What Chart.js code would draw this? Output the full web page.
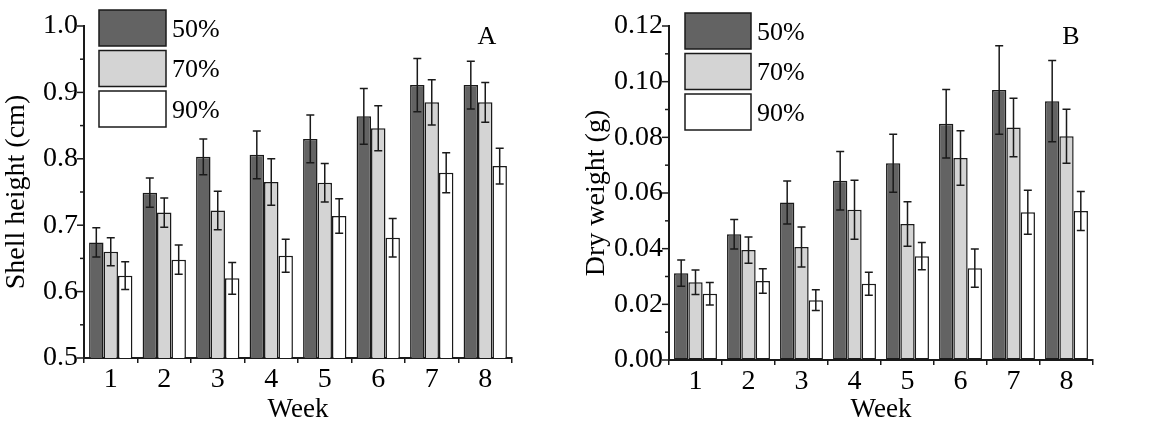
<!DOCTYPE html>
<html>
<head>
<meta charset="utf-8">
<script src="https://cdn.jsdelivr.net/npm/chart.js@4/dist/chart.umd.min.js"></script>
<style>
  html, body { margin: 0; padding: 0; background: #fff; }
  #wrap { position: relative; width: 1163px; height: 427px; }
  #panelA { position: absolute; left: 0; top: 0; }
  #panelB { position: absolute; left: 580px; top: 0; }
</style>
</head>
<body>
<div id="wrap">
  <canvas id="panelA" width="580" height="427"></canvas>
  <canvas id="panelB" width="583" height="427"></canvas>
</div>
<script>
const weeks = ["1", "2", "3", "4", "5", "6", "7", "8"];
const seriesLabels = ["50%", "70%", "90%"];
const seriesColors = ["#636363", "#d4d4d4", "#ffffff"];

// shell height (cm), mean and error
const shell50 = [0.674, 0.749, 0.803, 0.806, 0.830, 0.864, 0.911, 0.911];
const shell70 = [0.660, 0.719, 0.722, 0.765, 0.764, 0.846, 0.885, 0.885];
const shell90 = [0.624, 0.648, 0.620, 0.654, 0.714, 0.681, 0.779, 0.789];
const shell50Err = [0.022, 0.022, 0.027, 0.036, 0.036, 0.042, 0.040, 0.036];
const shell70Err = [0.021, 0.022, 0.029, 0.035, 0.029, 0.034, 0.034, 0.030];
const shell90Err = [0.021, 0.022, 0.024, 0.025, 0.026, 0.029, 0.030, 0.027];

// dry weight (g), mean and error
const dry50 = [0.0312, 0.0452, 0.0566, 0.0644, 0.0707, 0.0849, 0.0970, 0.0930];
const dry70 = [0.0279, 0.0395, 0.0406, 0.0540, 0.0489, 0.0726, 0.0835, 0.0804];
const dry90 = [0.0238, 0.0284, 0.0215, 0.0274, 0.0373, 0.0330, 0.0531, 0.0535];
const dry50Err = [0.0047, 0.0053, 0.0077, 0.0105, 0.0104, 0.0123, 0.0159, 0.0146];
const dry70Err = [0.0044, 0.0047, 0.0072, 0.0106, 0.0080, 0.0098, 0.0105, 0.0097];
const dry90Err = [0.0040, 0.0044, 0.0037, 0.0041, 0.0049, 0.0069, 0.0079, 0.0070];

const FONT = "'Liberation Serif', 'Times New Roman', serif";
const INK = "#1a1a1a";

// error bars, minor ticks, legend boxes and panel letter
const extrasPlugin = {
  id: "extras",
  afterDatasetsDraw(chart) {
    const ctx = chart.ctx;
    const y = chart.scales.y;
    ctx.save();
    ctx.strokeStyle = INK;
    ctx.lineWidth = 1.5;
    chart.data.datasets.forEach((ds, di) => {
      const meta = chart.getDatasetMeta(di);
      meta.data.forEach((bar, i) => {
        const v = ds.data[i], e = ds.errors[i];
        const top = y.getPixelForValue(v + e);
        const bot = y.getPixelForValue(v - e);
        ctx.beginPath();
        ctx.moveTo(bar.x, top); ctx.lineTo(bar.x, bot);
        ctx.moveTo(bar.x - 4, top); ctx.lineTo(bar.x + 4, top);
        ctx.moveTo(bar.x - 4, bot); ctx.lineTo(bar.x + 4, bot);
        ctx.stroke();
      });
    });
    ctx.restore();
  },
  afterDraw(chart, args, opts) {
    const ctx = chart.ctx;
    const y = chart.scales.y;
    ctx.save();
    // y ticks, major and minor, pointing out
    ctx.strokeStyle = INK;
    ctx.lineWidth = 1.5;
    const half = y.options.ticks.stepSize / 2;
    const n = Math.round((y.max - y.min) / half);
    for (let i = 0; i <= n; i++) {
      const py = y.getPixelForValue(y.min + i * half);
      const len = i % 2 === 0 ? 7 : 4;
      ctx.beginPath();
      ctx.moveTo(y.right, py); ctx.lineTo(y.right - len, py);
      ctx.stroke();
    }
    // legend
    ctx.font = "26px " + FONT;
    ctx.textBaseline = "middle";
    ctx.textAlign = "left";
    chart.data.datasets.forEach((ds, di) => {
      const bx = opts.legendX, by = opts.legendY + di * opts.legendStep;
      ctx.fillStyle = ds.backgroundColor;
      ctx.fillRect(bx, by, opts.boxW, opts.boxH);
      ctx.strokeStyle = INK;
      ctx.lineWidth = 1.5;
      ctx.strokeRect(bx, by, opts.boxW, opts.boxH);
      ctx.fillStyle = "#000";
      ctx.fillText(ds.label, bx + opts.boxW + 6, by + opts.boxH / 2 + 2);
    });
    // panel letter
    ctx.font = "26px " + FONT;
    ctx.textAlign = "center";
    ctx.fillText(opts.letter, opts.letterX, opts.letterY);
    ctx.restore();
  }
};

function makeChart(id, values, errors, yTitle, yMin, yMax, yStep, digits, yWidth, xHeight, padRight, extras) {
  return new Chart(document.getElementById(id), {
    type: "bar",
    data: {
      labels: weeks,
      datasets: seriesLabels.map((lab, k) => ({
        label: lab,
        data: values[k],
        errors: errors[k],
        backgroundColor: seriesColors[k],
        borderColor: INK,
        borderWidth: 1.5,
        borderSkipped: false,
        categoryPercentage: 0.81,
        barPercentage: 1.0
      }))
    },
    options: {
      responsive: false,
      animation: false,
      layout: { padding: { left: 0, top: 26, right: padRight, bottom: 0 } },
      plugins: {
        legend: { display: false },
        tooltip: { enabled: false },
        extras: extras
      },
      scales: {
        x: {
          grid: { offset: true, drawOnChartArea: false, drawTicks: true, tickLength: 5, color: INK, lineWidth: 1.5 },
          border: { display: true, color: INK, width: 2 },
          ticks: { color: "#000", font: { family: FONT, size: 28 }, padding: 0 },
          title: { display: true, text: "Week", color: "#000", font: { family: FONT, size: 27 }, padding: { top: 0, bottom: 1 } },
          afterFit(scale) { scale.height = xHeight; }
        },
        y: {
          min: yMin,
          max: yMax,
          grid: { drawOnChartArea: false, drawTicks: false },
          border: { display: true, color: INK, width: 2 },
          ticks: {
            stepSize: yStep,
            color: "#000",
            font: { family: FONT, size: 28 },
            padding: 6,
            callback: (v) => Number(v).toFixed(digits)
          },
          title: { display: true, text: yTitle, color: "#000", font: { family: FONT, size: 28 }, padding: { top: 0, bottom: 0 } },
          afterFit(scale) { scale.width = yWidth; }
        }
      }
    },
    plugins: [extrasPlugin]
  });
}

document.addEventListener("DOMContentLoaded", () => {
  makeChart("panelA",
    [shell50, shell70, shell90], [shell50Err, shell70Err, shell90Err],
    "Shell height (cm)", 0.5, 1.0, 0.1, 1, 84, 69, 68,
    { legendX: 99, legendY: 10, legendStep: 40.5, boxW: 67, boxH: 36, letter: "A", letterX: 487, letterY: 37 });
  makeChart("panelB",
    [dry50, dry70, dry90], [dry50Err, dry70Err, dry90Err],
    "Dry weight (g)", 0, 0.12, 0.02, 2, 89, 67, 70,
    { legendX: 105, legendY: 13, legendStep: 40.5, boxW: 66, boxH: 36, letter: "B", letterX: 491, letterY: 37 });
});
</script>
</body>
</html>
